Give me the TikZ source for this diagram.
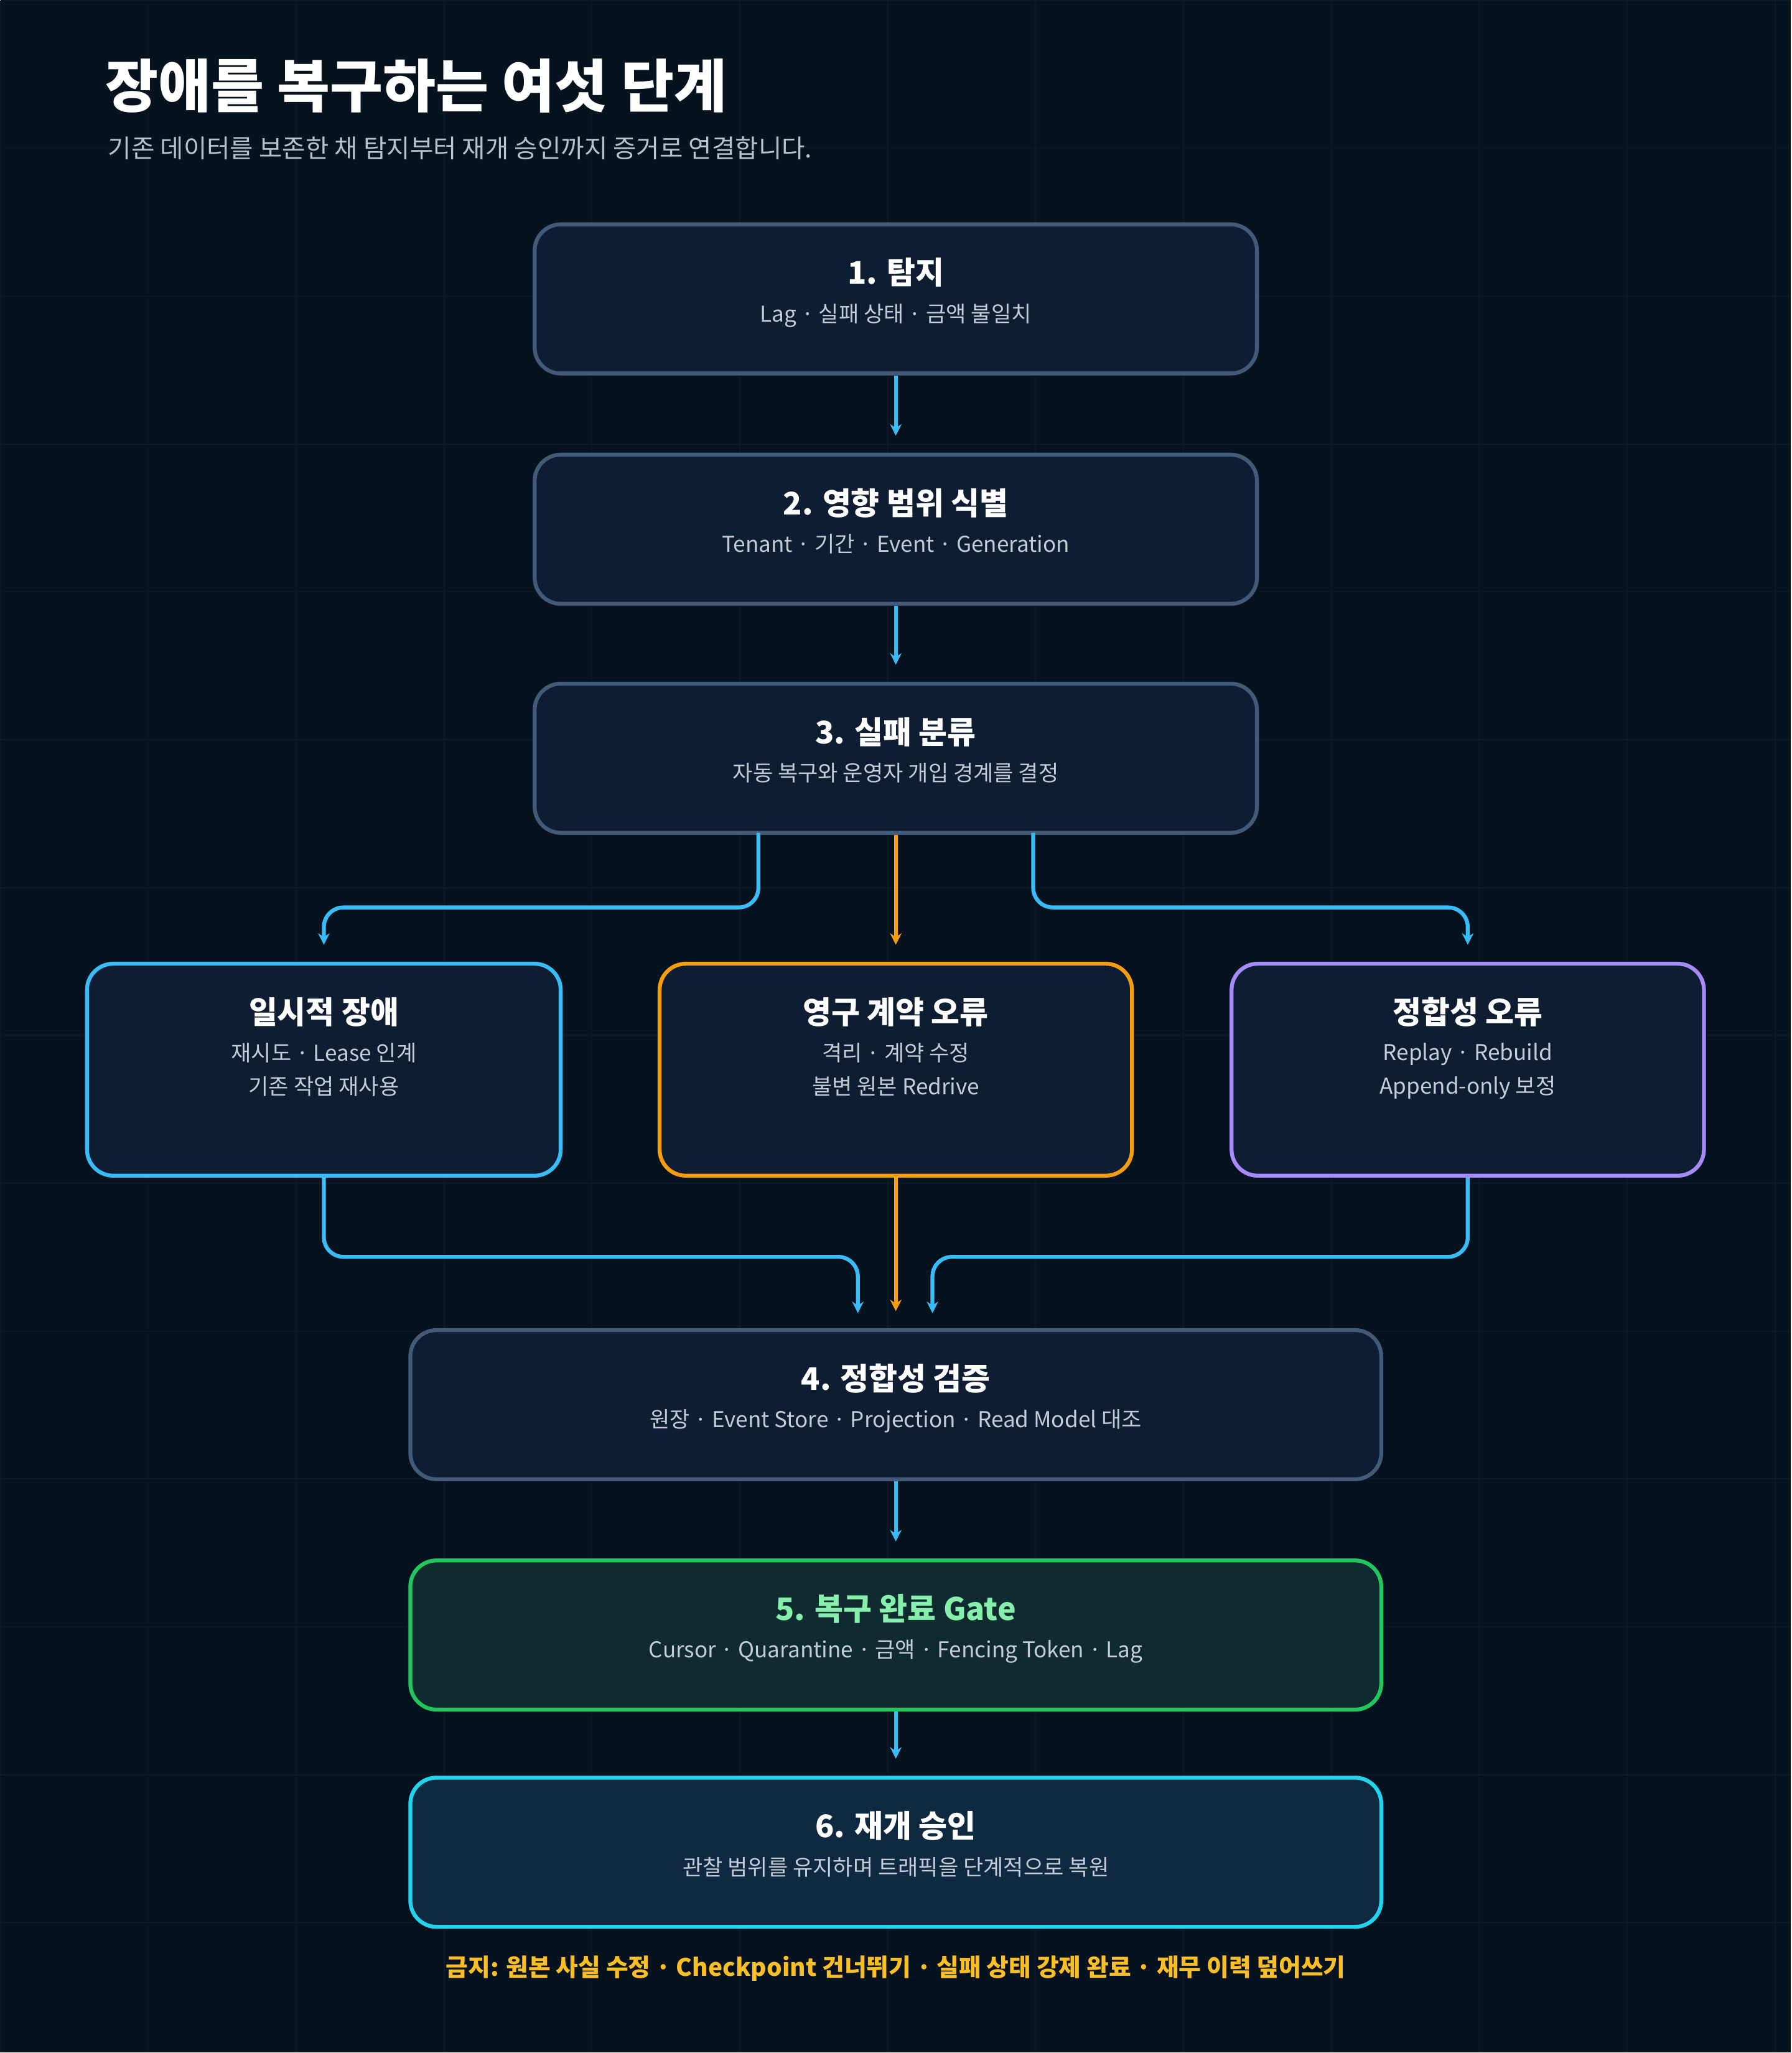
\documentclass[tikz,border=0pt]{standalone}
\usepackage{fontspec}
\setmainfont{Noto Sans CJK KR}
\usetikzlibrary{arrows.meta}
\definecolor{bgc}{HTML}{07121F}
\definecolor{gridc}{HTML}{0C1828}
\definecolor{boxfill}{HTML}{0F1D33}
\definecolor{boxline}{HTML}{435A78}
\definecolor{flowblue}{HTML}{38BDF8}
\definecolor{floworange}{HTML}{F59E0B}
\definecolor{flowpurple}{HTML}{A78BFA}
\definecolor{gatefill}{HTML}{0F2B30}
\definecolor{gateline}{HTML}{22C55E}
\definecolor{gatetext}{HTML}{86EFAC}
\definecolor{resfill}{HTML}{0F2A40}
\definecolor{resline}{HTML}{22D3EE}
\definecolor{subc}{HTML}{C3CCD8}
\definecolor{warnc}{HTML}{FBBF24}
\tikzset{
  stage/.style={draw=boxline, fill=boxfill, line width=1.7pt, rounded corners=0.4cm, minimum height=2.28cm},
  ttl/.style={anchor=north, text=white, font=\bfseries\fontsize{13.5}{16}\selectfont},
  sub/.style={anchor=north, text=subc, align=center, font=\fontsize{9.5}{14.5}\selectfont},
  flow/.style={draw=flowblue, line width=1.7pt, rounded corners=0.3cm, shorten >=0.26cm, -{Stealth[length=5pt,width=5pt]}}
}
\begin{document}
\begin{tikzpicture}[x=0.02cm, y=-0.02cm]
    % Hintergrund
    \fill[bgc] (0,0) rectangle (1368,1568);
    \draw[gridc, line width=0.5pt, step=2.26cm] (0,0) grid (1368,1568);
    \useasboundingbox (0,0) rectangle (1368,1568);

    % Kopf
    \node[anchor=west, text=white, font=\bfseries\fontsize{25}{30}\selectfont] (head) at (74,65) {장애를 복구하는 여섯 단계};
    \node[anchor=west, text=subc!85!gray, font=\fontsize{11}{13}\selectfont] (lead) at (76,113) {기존 데이터를 보존한 채 탐지부터 재개 승인까지 증거로 연결합니다.};

    % Stufe 1 bis 3
    \node[stage, minimum width=11.04cm] (s1) at (684,228) {};
    \node[ttl] at ([yshift=-0.42cm]s1.north) {1. 탐지};
    \node[sub] at ([yshift=-1.12cm]s1.north) {Lag · 실패 상태 · 금액 불일치};

    \node[stage, minimum width=11.04cm] (s2) at (684,404) {};
    \node[ttl] at ([yshift=-0.42cm]s2.north) {2. 영향 범위 식별};
    \node[sub] at ([yshift=-1.12cm]s2.north) {Tenant · 기간 · Event · Generation};

    \node[stage, minimum width=11.04cm] (s3) at (684,579) {};
    \node[ttl] at ([yshift=-0.42cm]s3.north) {3. 실패 분류};
    \node[sub] at ([yshift=-1.12cm]s3.north) {자동 복구와 운영자 개입 경계를 결정};

    % Fehlerklassen
    \node[stage, draw=flowblue, minimum width=7.24cm, minimum height=3.24cm] (t1) at (247,817) {};
    \node[ttl] at ([yshift=-0.42cm]t1.north) {일시적 장애};
    \node[sub] at ([yshift=-1.12cm]t1.north) {재시도 · Lease 인계\\기존 작업 재사용};

    \node[stage, draw=floworange, minimum width=7.22cm, minimum height=3.24cm] (t2) at (684,817) {};
    \node[ttl] at ([yshift=-0.42cm]t2.north) {영구 계약 오류};
    \node[sub] at ([yshift=-1.12cm]t2.north) {격리 · 계약 수정\\불변 원본 Redrive};

    \node[stage, draw=flowpurple, minimum width=7.22cm, minimum height=3.24cm] (t3) at (1121,817) {};
    \node[ttl] at ([yshift=-0.42cm]t3.north) {정합성 오류};
    \node[sub] at ([yshift=-1.12cm]t3.north) {Replay · Rebuild\\Append-only 보정};

    % Stufe 4 bis 6
    \node[stage, minimum width=14.84cm] (s4) at (684,1073) {};
    \node[ttl] at ([yshift=-0.42cm]s4.north) {4. 정합성 검증};
    \node[sub] at ([yshift=-1.12cm]s4.north) {원장 · Event Store · Projection · Read Model 대조};

    \node[stage, draw=gateline, fill=gatefill, minimum width=14.84cm] (s5) at (684,1249) {};
    \node[ttl, text=gatetext] at ([yshift=-0.42cm]s5.north) {5. 복구 완료 Gate};
    \node[sub] at ([yshift=-1.12cm]s5.north) {Cursor · Quarantine · 금액 · Fencing Token · Lag};

    \node[stage, draw=resline, fill=resfill, minimum width=14.84cm] (s6) at (684,1415) {};
    \node[ttl] at ([yshift=-0.42cm]s6.north) {6. 재개 승인};
    \node[sub] at ([yshift=-1.12cm]s6.north) {관찰 범위를 유지하며 트래픽을 단계적으로 복원};

    \node[text=warnc, font=\bfseries\fontsize{10.5}{13}\selectfont] (warn) at (684,1504) {금지: 원본 사실 수정 · Checkpoint 건너뛰기 · 실패 상태 강제 완료 · 재무 이력 덮어쓰기};

    % Verbindungen
    \coordinate (s3l) at (579,636);
    \coordinate (s3r) at (789,636);
    \coordinate (s4l) at (655,1016);
    \coordinate (s4r) at (712,1016);
    \draw[flow] (s1) -- (s2);
    \draw[flow] (s2) -- (s3);
    \draw[flow] (s3l) -- (579,693) -- (247,693) -- (t1.north);
    \draw[flow, draw=floworange] (s3) -- (t2);
    \draw[flow] (s3r) -- (789,693) -- (1121,693) -- (t3.north);
    \draw[flow] (t1.south) -- (247,960) -- (655,960) -- (s4l);
    \draw[flow, draw=floworange] (t2) -- (s4);
    \draw[flow] (t3.south) -- (1121,960) -- (712,960) -- (s4r);
    \draw[flow] (s4) -- (s5);
    \draw[flow] (s5) -- (s6);
\end{tikzpicture}
\end{document}
